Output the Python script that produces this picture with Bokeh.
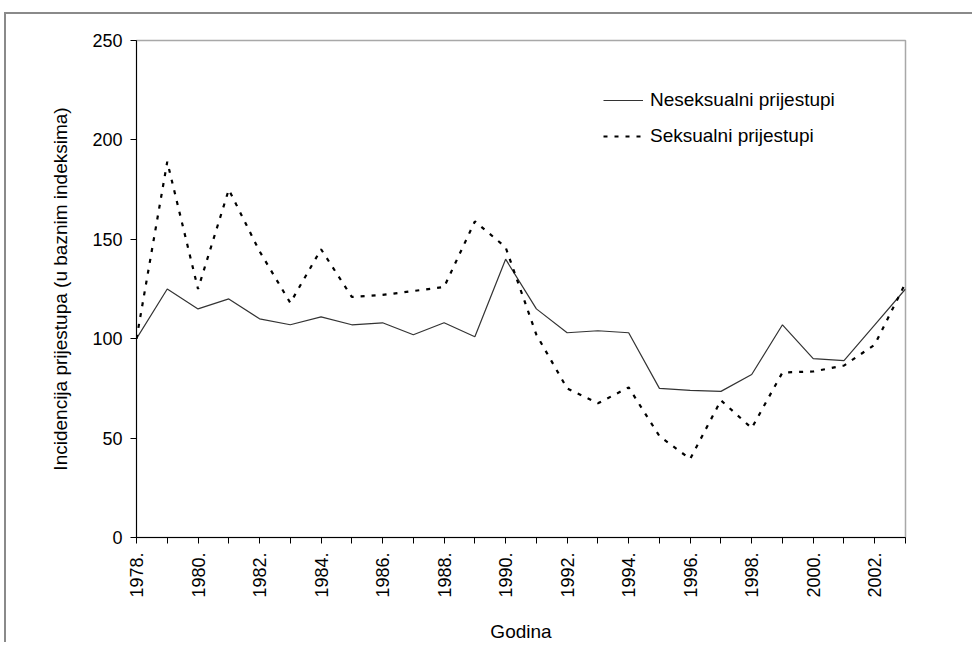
import math
from bokeh.plotting import figure
from bokeh.models import Range1d, FixedTicker, Legend, LegendItem
from bokeh.embed import file_html
from bokeh.resources import INLINE

years = list(range(1978, 2004))
neseksualni = [100, 125, 115, 120, 110, 107, 111, 107, 108, 102, 108, 101, 140,
               115, 103, 104, 103, 75, 74, 73.5, 82, 107, 90, 89, 107, 125]
seksualni = [100, 189, 125, 175, 144, 118, 145, 121, 122, 124, 126, 159, 146,
             102, 75, 67.5, 75.5, 51, 39.5, 69, 55, 83, 83.5, 86.5, 97, 128]
y_ticks = [0, 50, 100, 150, 200, 250]
x_labels = {y: (f"{y}." if y % 2 == 0 else "") for y in years}

FONT = "Liberation Sans"

p = figure(width=968, height=630, output_backend="svg", toolbar_location=None,
           x_range=Range1d(1978, 2003), y_range=Range1d(0, 250),
           min_border_left=130, min_border_right=69, min_border_top=26,
           min_border_bottom=107)
p.margin = (12, 0, 0, 4)
p.styles = {"border-top": "2px solid #8a8a8a", "border-left": "2px solid #8a8a8a"}

p.xgrid.visible = False
p.ygrid.visible = False
p.outline_line_color = "#a8a8a8"
p.outline_line_width = 1.5

r1 = p.line(years, neseksualni, line_color="#333333", line_width=1.2)
r2 = p.line(years, seksualni, line_color="black", line_width=2.2, line_dash="4 7")

legend = Legend(items=[LegendItem(label="Neseksualni prijestupi", renderers=[r1]),
                       LegendItem(label="Seksualni prijestupi", renderers=[r2])],
                location=(467, 390), glyph_width=40, glyph_height=20,
                label_height=20, spacing=14, padding=0, margin=0,
                label_standoff=7, border_line_color=None,
                background_fill_alpha=0,
                label_text_font=FONT, label_text_font_size="19px",
                label_text_color="black")
p.add_layout(legend)

xa = p.xaxis[0]
xa.ticker = FixedTicker(ticks=years)
xa.major_label_overrides = x_labels
xa.major_label_orientation = math.pi / 2
xa.major_tick_in = 0
xa.major_tick_out = 6
xa.minor_tick_line_color = None
xa.axis_line_color = "black"
xa.major_tick_line_color = "black"
xa.major_label_text_font = FONT
xa.major_label_text_font_size = "18px"
xa.major_label_text_color = "black"
xa.major_label_standoff = 9
xa.axis_label = "Godina"
xa.axis_label_text_font = FONT
xa.axis_label_text_font_size = "19px"
xa.axis_label_text_font_style = "normal"
xa.axis_label_text_color = "black"
xa.axis_label_standoff = 20

ya = p.yaxis[0]
ya.ticker = FixedTicker(ticks=y_ticks)
ya.major_tick_in = 0
ya.major_tick_out = 6
ya.minor_tick_line_color = None
ya.axis_line_color = "black"
ya.major_tick_line_color = "black"
ya.major_label_text_font = FONT
ya.major_label_text_font_size = "18px"
ya.major_label_text_color = "black"
ya.major_label_standoff = 8
ya.axis_label = "Incidencija prijestupa (u baznim indeksima)"
ya.axis_label_text_font = FONT
ya.axis_label_text_font_size = "19px"
ya.axis_label_text_font_style = "normal"
ya.axis_label_text_color = "black"
ya.axis_label_standoff = 18

open("out.html", "w").write(file_html(p, INLINE))
